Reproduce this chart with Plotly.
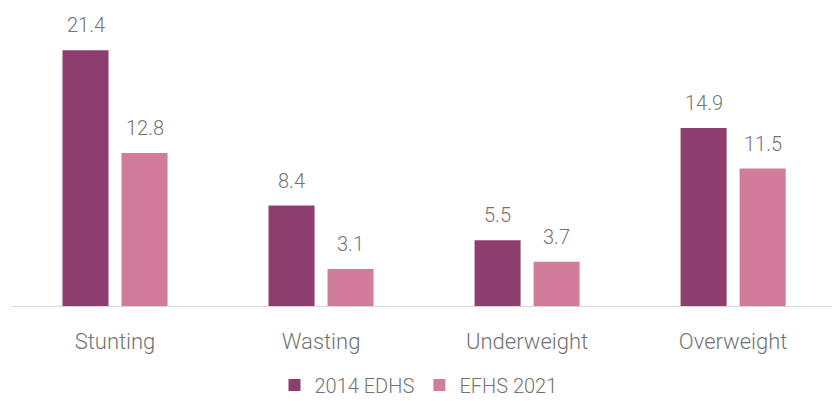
import plotly.graph_objects as go

categories = ["Stunting", "Wasting", "Underweight", "Overweight"]
edhs_2014 = [21.4, 8.4, 5.5, 14.9]
efhs_2021 = [12.8, 3.1, 3.7, 11.5]
series_names = ["2014 EDHS", "EFHS 2021"]

dark = "#8E3E6E"
light = "#D07C9A"
text_color = "#737373"
font_family = "Roboto"

# bar geometry (pixels per category slot, group spacing)
plot_left, plot_width = 12, 820
x_range = [-0.5, 3.48]
bargap, bargroupgap = 0.427, 0.22
px_per_cat = plot_width / (x_range[1] - x_range[0])
slot = px_per_cat * (1 - bargap) / 2

fig = go.Figure()
series = [(series_names[0], edhs_2014, dark), (series_names[1], efhs_2021, light)]
for name, vals, col in series:
    fig.add_trace(go.Bar(
        x=categories, y=vals, name=name,
        marker=dict(color=col, line=dict(width=0)),
    ))

# value labels above each bar
for i, (name, vals, col) in enumerate(series):
    shift = (i - 0.5) * slot
    for cat, v in zip(categories, vals):
        fig.add_annotation(
            x=cat, y=v, text=f"{v:.1f}", showarrow=False,
            xshift=shift, yshift=25, yanchor="middle",
            font=dict(family=font_family, size=20, color=text_color, weight=300),
        )

fig.update_layout(
    width=832, height=401,
    margin=dict(l=plot_left, r=0, t=0, b=95, autoexpand=False),
    paper_bgcolor="white", plot_bgcolor="white",
    barmode="group", bargap=bargap, bargroupgap=bargroupgap,
    font=dict(family=font_family, color=text_color, weight=300),
    legend=dict(orientation="h", xref="container", yref="container",
                x=0.503, xanchor="center", y=0.04, yanchor="middle",
                font=dict(size=20, color=text_color, family=font_family, weight=300),
                itemwidth=30, traceorder="normal"),
)
fig.update_xaxes(range=x_range, showline=True, linecolor="#d6d6d6", linewidth=1,
                 ticks="outside", ticklen=16, tickcolor="rgba(0,0,0,0)",
                 tickfont=dict(size=22, color=text_color, family=font_family, weight=300),
                 showgrid=False)
fig.update_yaxes(range=[0, 25.6], visible=False, showgrid=False)

fig.write_html("out.html")
